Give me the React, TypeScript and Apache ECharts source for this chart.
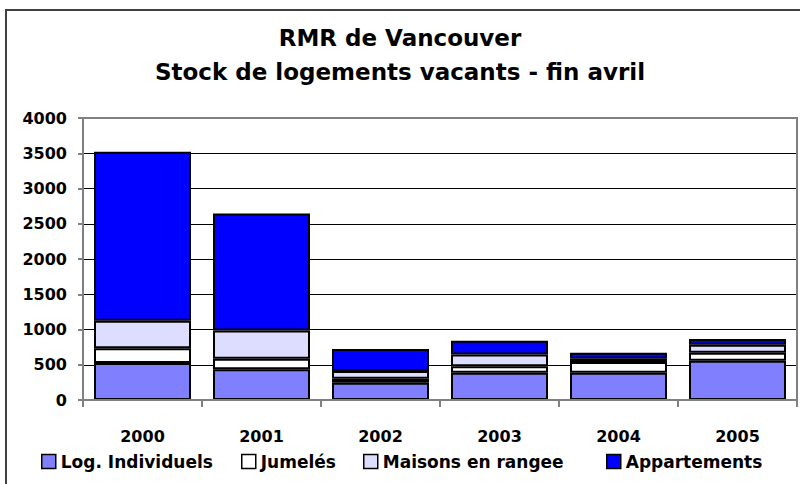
import React, { useEffect, useRef } from "react";
import * as echarts from "echarts";

const categories = ["2000", "2001", "2002", "2003", "2004", "2005"];
const individuels = [525, 435, 245, 385, 385, 555];
const jumeles = [208, 150, 55, 95, 155, 115];
const maisons = [392, 400, 110, 165, 45, 115];
const appartements = [2395, 1660, 315, 195, 85, 80];
const seriesNames = ["Log. Individuels", "Jumelés", "Maisons en rangee", "Appartements"];
const seriesColors = ["#8080FF", "#FFFFFF", "#DDDDFF", "#0000FF"];
const yTicks = { min: 0, max: 4000, interval: 500 };

const FONT = "DejaVu Sans";

export default function App() {
  const ref = useRef<HTMLDivElement>(null);
  useEffect(() => {
    document.body.style.margin = "0";
    const chart = echarts.init(ref.current!, null, { renderer: "svg" });
    const values = [individuels, jumeles, maisons, appartements];
    const legendLefts = [41, 241, 363, 606];
    chart.setOption({
      animation: false,
      backgroundColor: "#fff",
      textStyle: { fontFamily: FONT },
      title: {
        text: "RMR de Vancouver\nStock de logements vacants - fin avril",
        left: "center",
        top: 21,
        padding: 0,
        textStyle: {
          fontFamily: FONT,
          fontWeight: "bold",
          fontSize: 23,
          lineHeight: 34,
          color: "#000",
        },
      },
      legend: seriesNames.map((n, i) => ({
        data: [n],
        left: legendLefts[i],
        top: 453,
        itemWidth: 14,
        itemHeight: 14,
        padding: 0,
        icon: "rect",
        itemStyle: { borderColor: "#000", borderWidth: 1.5 },
        textStyle: { fontFamily: FONT, fontWeight: "bold", fontSize: 17, color: "#000" },
      })),
      grid: { left: 83, right: 3, top: 118, bottom: 84 },
      xAxis: {
        type: "category",
        data: categories,
        axisLine: { lineStyle: { color: "#808080", width: 2 } },
        axisTick: { show: true, length: 7, lineStyle: { color: "#808080", width: 2 } },
        axisLabel: { margin: 28, fontFamily: FONT, fontWeight: "bold", fontSize: 16, color: "#000" },
      },
      yAxis: {
        type: "value",
        min: yTicks.min,
        max: yTicks.max,
        interval: yTicks.interval,
        axisLine: { show: true, lineStyle: { color: "#808080", width: 2 } },
        axisTick: { show: true, length: 5, lineStyle: { color: "#808080", width: 2 } },
        axisLabel: {
          margin: 16,
          fontFamily: FONT,
          fontWeight: "bold",
          fontSize: 16,
          color: "#000",
          formatter: (v: number) => String(v),
        },
        splitLine: { lineStyle: { color: "#000", width: 1 } },
      },
      graphic: [
        {
          type: "rect",
          z: 100,
          silent: true,
          shape: { x: 83, y: 118, width: 714, height: 282 },
          style: { fill: "none", stroke: "#808080", lineWidth: 2 },
        },
        {
          type: "rect",
          z: 100,
          silent: true,
          shape: { x: 6, y: 10, width: 830, height: 500 },
          style: { fill: "none", stroke: "#404040", lineWidth: 2 },
        },
      ],
      series: seriesNames.map((name, i) => ({
        name,
        type: "bar",
        stack: "total",
        data: values[i],
        barWidth: 97,
        itemStyle: { color: seriesColors[i], borderColor: "#000", borderWidth: 2 },
      })),
    });
    return () => chart.dispose();
  }, []);
  return <div ref={ref} style={{ position: "absolute", left: 0, top: 0, width: 800, height: 484 }} />;
}
